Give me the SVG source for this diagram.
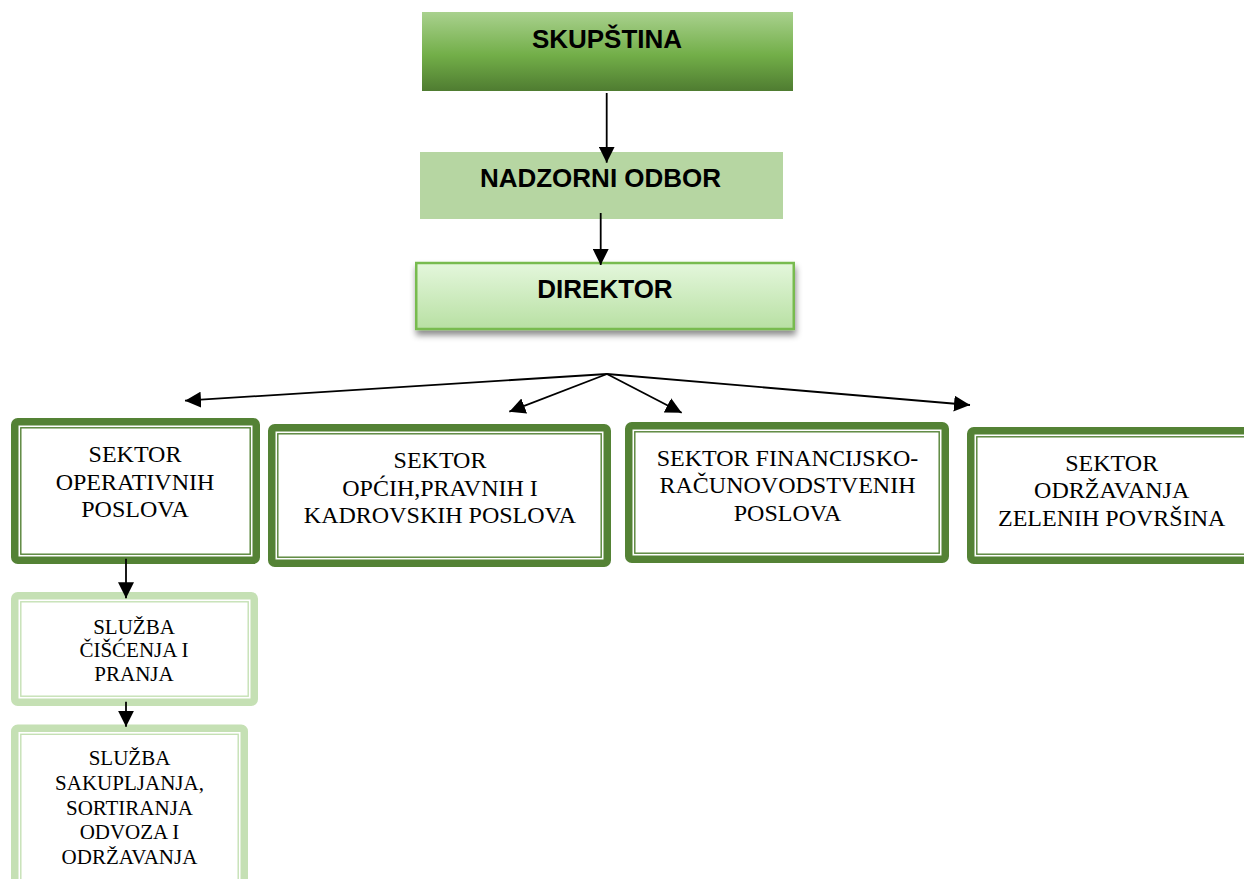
<svg xmlns="http://www.w3.org/2000/svg" width="1244" height="879" viewBox="0 0 1244 879">
<defs>
<linearGradient id="gSkup" x1="0" y1="0" x2="0" y2="1">
<stop offset="0" stop-color="#a9d18e"/>
<stop offset="0.55" stop-color="#72ae48"/>
<stop offset="1" stop-color="#4f7c31"/>
</linearGradient>
<linearGradient id="gDir" x1="0" y1="0" x2="0" y2="1">
<stop offset="0" stop-color="#e4f7dc"/>
<stop offset="1" stop-color="#b8e0a3"/>
</linearGradient>
<filter id="shadow" x="-10%" y="-20%" width="120%" height="160%">
<feDropShadow dx="1" dy="5" stdDeviation="3" flood-color="#000" flood-opacity="0.45"/>
</filter>
<marker id="arr" markerUnits="userSpaceOnUse" markerWidth="17" markerHeight="16" refX="16" refY="8" orient="auto">
<path d="M0,0 L16,8 L0,16 z" fill="#000"/>
</marker>
<style>
.head{font-family:"Liberation Sans",Arial,sans-serif;font-weight:bold;font-size:26px;fill:#000;text-anchor:middle}
.sec{font-family:"Liberation Serif","Times New Roman",serif;font-size:24px;fill:#000;text-anchor:middle}
.sub{font-family:"Liberation Serif","Times New Roman",serif;font-size:21px;fill:#000;text-anchor:middle}
.band{fill:#fff;stroke:#548235;stroke-width:7.5}
.thin{fill:none;stroke:#548235;stroke-width:1.4}
.lband{fill:#fff;stroke:#c5e0b4;stroke-width:7.5}
.lthin{fill:none;stroke:#c5e0b4;stroke-width:1.4}
.conn{stroke:#000;stroke-width:1.8;fill:none;marker-end:url(#arr)}
</style>
</defs>

<g id="skupstina">
<rect x="422" y="12" width="371" height="79" fill="url(#gSkup)"/>
<text class="head" x="607" y="48">SKUPŠTINA</text>
</g>

<g id="nadzorni-odbor">
<rect x="420" y="152" width="363" height="67" fill="#b6d6a2"/>
<text class="head" x="600.5" y="187">NADZORNI ODBOR</text>
</g>

<g id="direktor">
<rect x="416.25" y="263" width="377.5" height="66" fill="url(#gDir)" stroke="#78bb50" stroke-width="2.5" filter="url(#shadow)"/>
<text class="head" x="605" y="298">DIREKTOR</text>
</g>

<g id="sektor-operativnih">
<rect class="band" x="14.75" y="421.75" width="241.5" height="138.5" rx="3"/>
<rect class="thin" x="20.8" y="427.8" width="229.4" height="126.4"/>
<text class="sec" x="135" y="462">SEKTOR</text>
<text class="sec" x="135" y="489.5">OPERATIVNIH</text>
<text class="sec" x="135" y="517">POSLOVA</text>
</g>

<g id="sektor-opcih">
<rect class="band" x="271.75" y="427.75" width="335.5" height="135.5" rx="3"/>
<rect class="thin" x="277.8" y="433.8" width="323.4" height="123.4"/>
<text class="sec" x="440" y="468.3">SEKTOR</text>
<text class="sec" x="440" y="495.7">OPĆIH,PRAVNIH I</text>
<text class="sec" x="440" y="523.3">KADROVSKIH POSLOVA</text>
</g>

<g id="sektor-financijsko">
<rect class="band" x="628.75" y="425.75" width="316.5" height="133.5" rx="3"/>
<rect class="thin" x="634.8" y="431.8" width="304.4" height="121.4"/>
<text class="sec" x="787.5" y="466">SEKTOR FINANCIJSKO-</text>
<text class="sec" x="787.5" y="493.3">RAČUNOVODSTVENIH</text>
<text class="sec" x="787.5" y="521">POSLOVA</text>
</g>

<g id="sektor-zelenih">
<rect class="band" x="970.75" y="430.75" width="282.5" height="129.5" rx="3"/>
<rect class="thin" x="976.8" y="436.8" width="270.4" height="117.4"/>
<text class="sec" x="1111.7" y="470.7">SEKTOR</text>
<text class="sec" x="1111.7" y="498.3">ODRŽAVANJA</text>
<text class="sec" x="1111.7" y="525.7">ZELENIH POVRŠINA</text>
</g>

<g id="sluzba-ciscenja">
<rect class="lband" x="14.75" y="595.75" width="239.5" height="106.5" rx="3"/>
<rect class="lthin" x="20.8" y="601.8" width="227.4" height="94.4"/>
<text class="sub" x="134" y="634">SLUŽBA</text>
<text class="sub" x="134" y="657">ČIŠĆENJA I</text>
<text class="sub" x="134" y="681">PRANJA</text>
</g>

<g id="sluzba-sakupljanja">
<rect class="lband" x="14.75" y="728.25" width="229.5" height="170" rx="3"/>
<rect class="lthin" x="20.8" y="734.3" width="217.4" height="160"/>
<text class="sub" x="129.5" y="765">SLUŽBA</text>
<text class="sub" x="129.5" y="790">SAKUPLJANJA,</text>
<text class="sub" x="129.5" y="814.5">SORTIRANJA</text>
<text class="sub" x="129.5" y="839">ODVOZA I</text>
<text class="sub" x="129.5" y="864">ODRŽAVANJA</text>
</g>

<g id="connectors">
<line class="conn" x1="606.7" y1="93" x2="606.7" y2="162.7"/>
<line class="conn" x1="600.7" y1="213" x2="600.7" y2="265"/>
<line class="conn" x1="607" y1="374" x2="185" y2="400.7"/>
<line class="conn" x1="607" y1="374" x2="509.3" y2="411.7"/>
<line class="conn" x1="607" y1="374" x2="681.7" y2="412.7"/>
<line class="conn" x1="607" y1="374" x2="970" y2="405"/>
<line class="conn" x1="126" y1="558.7" x2="126" y2="598.3"/>
<line class="conn" x1="126" y1="701.7" x2="126" y2="726.7"/>
</g>
</svg>
